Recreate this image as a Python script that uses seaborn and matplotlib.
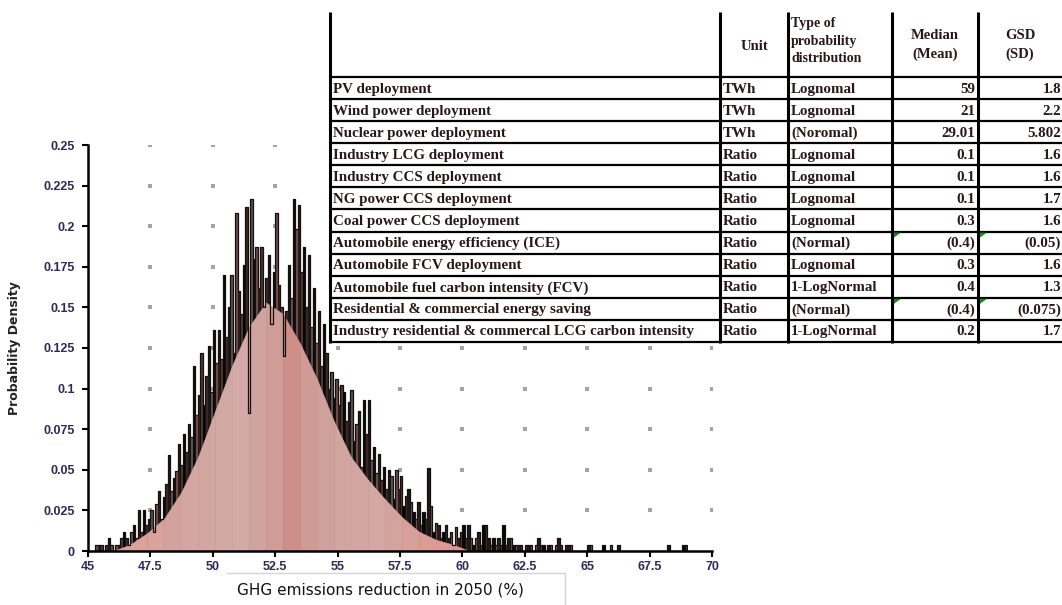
import numpy as np
import pandas as pd
import matplotlib
matplotlib.use("Agg")
import matplotlib.pyplot as plt
from matplotlib.patches import Rectangle, Polygon
import seaborn as sns

# ---------------- data ----------------
x_ticks = [45, 47.5, 50, 52.5, 55, 57.5, 60, 62.5, 65, 67.5, 70]
y_ticks = [0, 0.025, 0.05, 0.075, 0.1, 0.125, 0.15, 0.175, 0.2, 0.225, 0.25]
x_tick_labels = ["45", "47.5", "50", "52.5", "55", "57.5", "60", "62.5", "65", "67.5", "70"]
y_tick_labels = ["0", "0.025", "0.05", "0.075", "0.1", "0.125", "0.15", "0.175", "0.2", "0.225", "0.25"]

# fine histogram (bin width 0.1, from 45.2 to 69.0)
hist_start = 45.2
hist_stop = 69.0
hist_width = 0.1
fine_density = [
    0.000, 0.004, 0.004, 0.004, 0.000, 0.004, 0.008, 0.004, 0.000, 0.004,
    0.004, 0.008, 0.012, 0.008, 0.004, 0.012, 0.016, 0.008, 0.025, 0.012,
    0.025, 0.016, 0.020, 0.025, 0.012, 0.029, 0.037, 0.020, 0.033, 0.041,
    0.059, 0.037, 0.045, 0.049, 0.066, 0.053, 0.072, 0.061, 0.078, 0.070,
    0.114, 0.084, 0.096, 0.122, 0.090, 0.108, 0.126, 0.098, 0.136, 0.116,
    0.136, 0.118, 0.170, 0.132, 0.150, 0.170, 0.122, 0.208, 0.160, 0.146,
    0.176, 0.212, 0.085, 0.217, 0.180, 0.187, 0.162, 0.187, 0.150, 0.168,
    0.182, 0.140, 0.172, 0.208, 0.164, 0.150, 0.120, 0.148, 0.176, 0.156,
    0.217, 0.198, 0.213, 0.172, 0.187, 0.150, 0.182, 0.138, 0.162, 0.128,
    0.148, 0.114, 0.140, 0.122, 0.100, 0.110, 0.094, 0.106, 0.090, 0.102,
    0.098, 0.080, 0.092, 0.099, 0.068, 0.078, 0.086, 0.052, 0.093, 0.072,
    0.093, 0.056, 0.064, 0.048, 0.060, 0.044, 0.052, 0.038, 0.050, 0.046,
    0.032, 0.050, 0.038, 0.046, 0.028, 0.034, 0.038, 0.030, 0.024, 0.020,
    0.030, 0.016, 0.024, 0.020, 0.051, 0.028, 0.012, 0.017, 0.016, 0.008,
    0.012, 0.016, 0.008, 0.012, 0.004, 0.015, 0.008, 0.012, 0.016, 0.008,
    0.016, 0.008, 0.004, 0.008, 0.012, 0.004, 0.016, 0.016, 0.008, 0.004,
    0.008, 0.004, 0.008, 0.004, 0.016, 0.004, 0.008, 0.008, 0.004, 0.004,
    0.004, 0.004, 0.000, 0.004, 0.004, 0.004, 0.000, 0.004, 0.008, 0.004,
    0.004, 0.000, 0.004, 0.004, 0.000, 0.004, 0.008, 0.004, 0.000, 0.004,
    0.004, 0.004, 0.000, 0.000, 0.000, 0.000, 0.000, 0.000, 0.004, 0.004,
    0.000, 0.000, 0.000, 0.000, 0.004, 0.000, 0.000, 0.004, 0.000, 0.000,
    0.004, 0.000, 0.000, 0.000, 0.000, 0.000, 0.000, 0.000, 0.000, 0.000,
    0.000, 0.000, 0.000, 0.000, 0.000, 0.000, 0.000, 0.000, 0.000, 0.000,
    0.004, 0.000, 0.000, 0.000, 0.000, 0.000, 0.004, 0.004,
]

# smooth (banded) density envelope
band_edges = [46.01, 46.69, 47.37, 48.05, 48.73, 49.41, 50.09, 50.77, 51.45, 52.13,
              52.81, 53.49, 54.17, 54.85, 55.53, 56.21, 56.89, 57.57, 58.25, 58.93,
              59.61, 60.29]
band_heights = [0.000, 0.004, 0.011, 0.020, 0.036, 0.058, 0.086, 0.114, 0.138, 0.153,
                0.146, 0.128, 0.106, 0.080, 0.058, 0.044, 0.032, 0.021, 0.012, 0.007,
                0.004, 0.000]
band_colors = ["#dc9f99", "#dba19b", "#d9a29c", "#d4a29d", "#d3a6a1", "#d2a6a1", "#d2a8a3",
               "#d3aaa5", "#d1a3a0", "#d09c98", "#d08e89", "#d09a95", "#cfa19c", "#d1a5a0",
               "#d2a7a2", "#d3a7a2", "#d5a39e", "#d8a09a", "#dc9c96", "#df9893", "#e09690"]

# table
table_header = ["", "Unit", "Type of\nprobability\ndistribution", "Median\n(Mean)", "GSD\n(SD)"]
row_names = ["PV deployment", "Wind power deployment", "Nuclear power deployment",
             "Industry LCG deployment", "Industry CCS deployment", "NG power CCS deployment",
             "Coal power CCS deployment", "Automobile energy efficiency (ICE)",
             "Automobile FCV deployment", "Automobile fuel carbon intensity (FCV)",
             "Residential & commercial energy saving",
             "Industry residential & commercal LCG carbon intensity"]
units = ["TWh", "TWh", "TWh", "Ratio", "Ratio", "Ratio", "Ratio", "Ratio", "Ratio", "Ratio",
         "Ratio", "Ratio"]
dist_types = ["Lognomal", "Lognomal", "(Noromal)", "Lognomal", "Lognomal", "Lognomal",
              "Lognomal", "(Normal)", "Lognomal", "1-LogNormal", "(Normal)", "1-LogNormal"]
medians = ["59", "21", "29.01", "0.1", "0.1", "0.1", "0.3", "(0.4)", "0.3", "0.4", "(0.4)", "0.2"]
gsds = ["1.8", "2.2", "5.802", "1.6", "1.6", "1.7", "1.6", "(0.05)", "1.6", "1.3", "(0.075)", "1.7"]
commented_rows = ["Automobile energy efficiency (ICE)", "Residential & commercial energy saving"]

x_label = "GHG emissions reduction in 2050 (%)"
y_label = "Probability Density"

# ---------------- figure ----------------
sns.set_style("white")
plt.rcParams["font.family"] = ["DejaVu Sans"]

W, H = 1062, 605
fig = plt.figure(figsize=(W / 100, H / 100), dpi=100)
ax = fig.add_axes([88 / W, 1 - 551 / H, 624 / W, 406 / H])

# dotted grid (dots at tick intersections)
gx, gy = np.meshgrid(x_ticks[1:], y_ticks[1:])
ax.scatter(gx.ravel(), gy.ravel(), marker="s", s=6, color="#a4a4a4", linewidths=0, zorder=1)

edges = [round(v, 3) for v in np.arange(hist_start, hist_stop + hist_width / 2, hist_width)]
centers = [(a + b) / 2 for a, b in zip(edges[:-1], edges[1:])]
df = pd.DataFrame({"x": centers, "w": fine_density})

n0 = len(ax.patches)
sns.histplot(data=df, x="x", weights="w", bins=edges, stat="count", element="bars",
             fill=True, color="#222222", alpha=1.0, linewidth=0.7, edgecolor="#0a0808",
             ax=ax, zorder=2)
bar_cycle = ["#0e0a0a", "#4d3531", "#1e1818", "#6b4b47", "#050505", "#5a5050", "#2c1c1a",
             "#3a2724"]
for i, p in enumerate(ax.patches[n0:]):
    c = bar_cycle[(i * 3) % len(bar_cycle)]
    p.set_facecolor(c)
    p.set_edgecolor("#161010" if i % 2 else c)
    p.set_alpha(1.0)

# banded envelope
for i in range(len(band_edges) - 1):
    ax.fill_between(band_edges[i:i + 2], 0, band_heights[i:i + 2], color=band_colors[i],
                    linewidth=0.4, edgecolor=band_colors[i], zorder=3)

# outline of the fine histogram
sns.histplot(data=df, x="x", weights="w", bins=edges, stat="count", element="step",
             fill=False, color="#141010", linewidth=0.9, ax=ax, zorder=4)

ax.set_xlim(45, 70)
ax.set_ylim(0, 0.25)
ax.set_xticks(x_ticks)
ax.set_xticklabels(x_tick_labels)
ax.set_yticks(y_ticks)
ax.set_yticklabels(y_tick_labels)
for s in ["top", "right"]:
    ax.spines[s].set_visible(False)
for s in ["left", "bottom"]:
    ax.spines[s].set_color("black")
    ax.spines[s].set_linewidth(1.8)
    ax.spines[s].set_zorder(5)
ax.tick_params(axis="both", direction="out", length=4, width=1.5, color="black",
               labelcolor="#2e2a55", bottom=True, left=True)
ax.tick_params(axis="y", pad=5.5)
ax.tick_params(axis="x", pad=3.5)
for lab in ax.get_xticklabels() + ax.get_yticklabels():
    lab.set_fontfamily("Liberation Sans")
    lab.set_fontweight("bold")
    lab.set_fontsize(9)
ax.set_xlabel("")
ax.set_ylabel("")
ax.text(0.468, -0.096, x_label, transform=ax.transAxes, ha="center", va="center",
        fontsize=11, color="#111111")
ax.text(-0.117, 0.5, y_label, transform=ax.transAxes, ha="center", va="center",
        rotation=90, fontsize=9, fontweight="bold", color="#222222")

# ---------------- overlay: table and frame ----------------
tax = fig.add_axes([0, 0, 1, 1], zorder=5)
tax.set_xlim(0, W)
tax.set_ylim(H, 0)
tax.axis("off")
tax.patch.set_alpha(0)

# thin grey frame near the x label
tax.plot([227, 565, 565], [573, 573, H], color="#d4d4d4", linewidth=1.0)

t_left, t_right, t_top, t_head, row_h = 330, 1062, 12, 77, 22.08
col_x = [330, 720, 788, 892, 978]
n_rows = len(row_names)
t_bottom = t_head + row_h * n_rows
tax.add_patch(Rectangle((t_left, t_top), t_right - t_left, t_bottom - t_top,
                        facecolor="white", edgecolor="none", zorder=0))
for cx in col_x:
    tax.plot([cx, cx], [t_top, t_bottom + 1], color="black", linewidth=2.2,
             solid_capstyle="butt", zorder=3)
for i in range(n_rows + 1):
    yy = t_head + row_h * i
    tax.plot([t_left, t_right], [yy, yy], color="black", linewidth=1.6, zorder=3)

serif = "Liberation Serif"
tcol = "#2a1818"
tax.text(754, 46, table_header[1], ha="center", va="center", fontsize=10.5, fontfamily=serif,
         fontweight="bold", color=tcol)
tax.text(791, 41, table_header[2], ha="left", va="center", fontsize=10, fontfamily=serif,
         fontweight="bold", color=tcol, linespacing=1.4)
tax.text(935, 45, table_header[3], ha="center", va="center", fontsize=10.5, fontfamily=serif,
         fontweight="bold", color=tcol, linespacing=1.45)
tax.text(1020, 45, table_header[4], ha="center", va="center", fontsize=10.5, fontfamily=serif,
         fontweight="bold", color=tcol, linespacing=1.45)

fs = 10.8
for i in range(n_rows):
    yc = t_head + row_h * (i + 0.5) + 1
    tax.text(333, yc, row_names[i], ha="left", va="center", fontsize=fs, fontfamily=serif,
             fontweight="bold", color=tcol)
    tax.text(723, yc, units[i], ha="left", va="center", fontsize=fs, fontfamily=serif,
             fontweight="bold", color=tcol)
    tax.text(791, yc, dist_types[i], ha="left", va="center", fontsize=fs, fontfamily=serif,
             fontweight="bold", color=tcol)
    tax.text(975, yc, medians[i], ha="right", va="center", fontsize=fs, fontfamily=serif,
             fontweight="bold", color=tcol)
    tax.text(1061, yc, gsds[i], ha="right", va="center", fontsize=fs, fontfamily=serif,
             fontweight="bold", color=tcol)
    if row_names[i] in commented_rows:
        ytop = t_head + row_h * i + 1
        for cx in (col_x[3], col_x[4]):
            tax.add_patch(Polygon([[cx + 2, ytop], [cx + 9, ytop], [cx + 2, ytop + 5]],
                                  closed=True, facecolor="#1a8c1a", edgecolor="none", zorder=4))

fig.savefig("out.png", dpi=100)
